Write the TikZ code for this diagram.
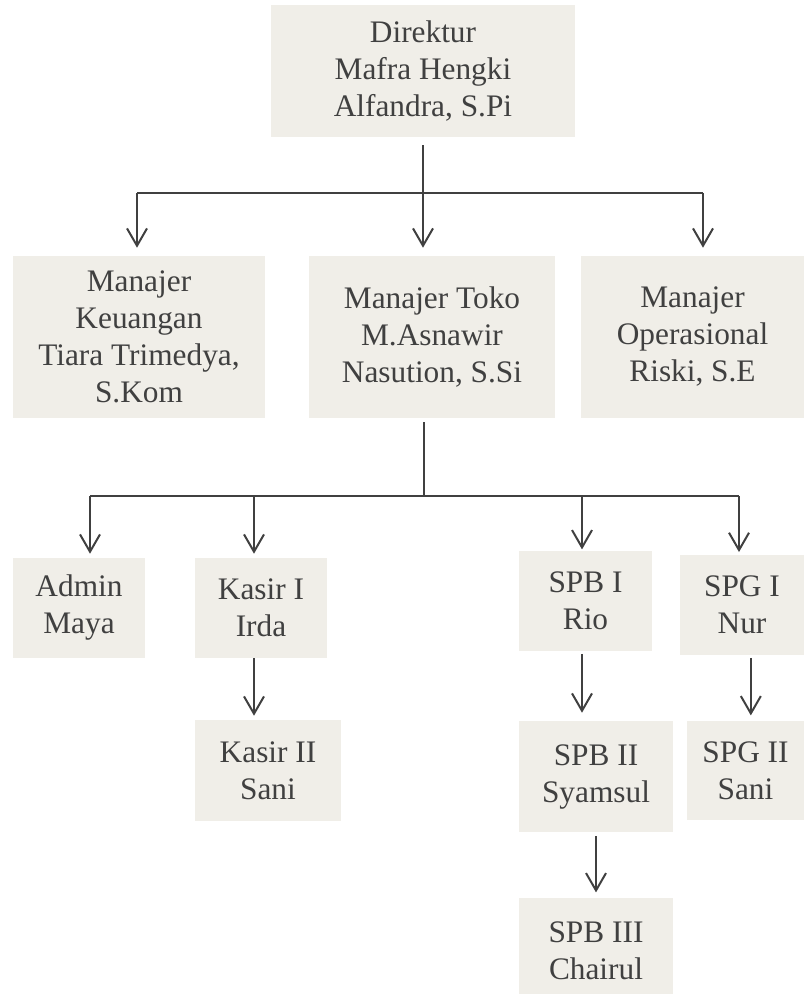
\documentclass[tikz,border=0pt]{standalone}
\usepackage{fontspec}
\setmainfont{Liberation Serif}
\usetikzlibrary{arrows.meta}
\definecolor{kotak}{RGB}{240,238,232}
\definecolor{tinta}{RGB}{64,64,64}

\begin{document}
\begin{tikzpicture}[x=0.75pt,y=-0.75pt,
    jabatan/.style 2 args={fill=kotak, text=tinta, align=center, inner sep=0pt,
      minimum width=#1, minimum height=#2, font=\fontsize{23.5}{27.75}\selectfont},
    hubung/.style={draw=tinta, line width=1.5pt},
    panah/.style={hubung, -{Straight Barb[length=13pt,width=15pt]}}]
   \useasboundingbox (0,0) rectangle (804,994);
   \node[jabatan={228pt}{99pt}] (dir) at (423,71) {Direktur\\Mafra Hengki\\Alfandra, S.Pi};
   \node[jabatan={189pt}{121.5pt}] (mk) at (139,337) {Manajer\\Keuangan\\Tiara Trimedya,\\S.Kom};
   \node[jabatan={184.5pt}{121.5pt}] (mt) at (432,337) {Manajer Toko\\M.Asnawir\\Nasution, S.Si};
   \node[jabatan={167.25pt}{121.5pt}] (mo) at (692.5,337) {Manajer\\Operasional\\Riski, S.E};
   \node[jabatan={99pt}{75pt}] (admin) at (79,608) {Admin\\Maya};
   \node[jabatan={99pt}{75pt}] (kasir1) at (261,608) {Kasir I\\Irda};
   \node[jabatan={99.75pt}{75pt}] (spb1) at (585.5,601) {SPB I\\Rio};
   \node[jabatan={93pt}{75pt}] (spg1) at (742,605) {SPG I\\Nur};
   \node[jabatan={109.5pt}{75.75pt}] (kasir2) at (268,770.5) {Kasir II\\Sani};
   \node[jabatan={115.5pt}{83.25pt}] (spb2) at (596,776.5) {SPB II\\Syamsul};
   \node[jabatan={87.75pt}{74.25pt}] (spg2) at (745.5,770.5) {SPG II\\Sani};
   \node[jabatan={115.5pt}{79.5pt}] (spb3) at (596,951) {SPB III\\Chairul};
   \coordinate (c1) at (423,193);
   \coordinate (c1k) at (137,193);
   \coordinate (c1o) at (703,193);
   \coordinate (c2) at (424,496);
   \coordinate (c2a) at (90,496);
   \coordinate (c2k) at (254,496);
   \coordinate (c2b) at (582,496);
   \coordinate (c2g) at (739,496);
   \draw[hubung, shorten <=6pt] (dir) to (c1);
   \draw[hubung] (c1k) to (c1o);
   \draw[panah, shorten >=6pt] (c1k) to (c1k |- mk.north);
   \draw[panah, shorten >=6pt] (c1) to (c1 |- mt.north);
   \draw[panah, shorten >=6pt] (c1o) to (c1o |- mo.north);
   \draw[hubung, shorten <=3pt] (mt.south -| c2) to (c2);
   \draw[hubung] (c2a) to (c2g);
   \draw[panah, shorten >=3pt] (c2a) to (c2a |- admin.north);
   \draw[panah, shorten >=3pt] (c2k) to (c2k |- kasir1.north);
   \draw[panah, shorten >=1pt] (c2b) to (c2b |- spb1.north);
   \draw[panah, shorten >=2pt] (c2g) to (c2g |- spg1.north);
   \draw[panah, shorten >=3pt] (kasir1.south -| c2k) to (kasir2.north -| c2k);
   \draw[panah, shorten <=2pt, shorten >=6pt] (spb1.south -| c2b) to (spb2.north -| c2b);
   \draw[panah, shorten <=2pt, shorten >=4pt] ([xshift=4pt]spg2.north |- spg1.south) to ([xshift=4pt]spg2.north);
   \draw[panah, shorten <=3pt, shorten >=4pt] (spb2) to (spb3);
 \end{tikzpicture}
\end{document}
